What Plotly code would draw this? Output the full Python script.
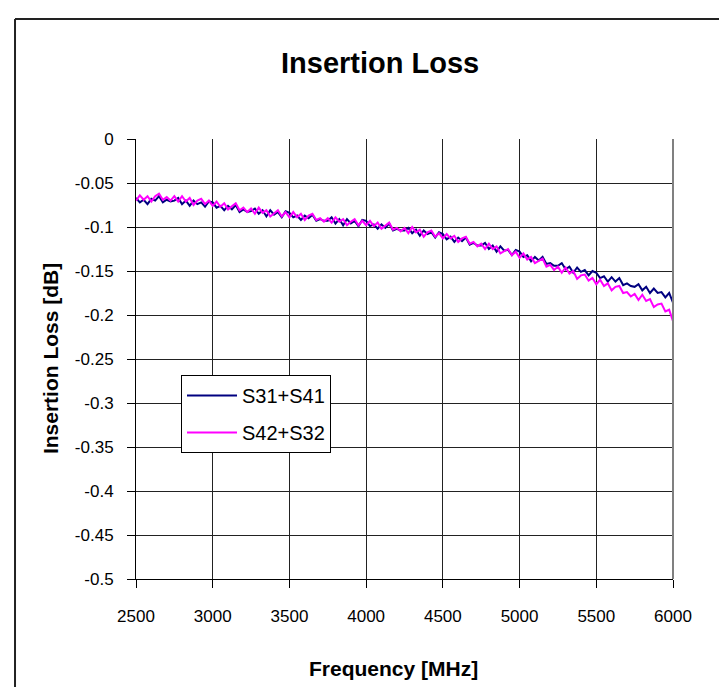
import plotly.graph_objects as go

freq_mhz = list(range(2500, 6001, 25))

s31_s41 = [
    -0.067, -0.072, -0.069, -0.074, -0.068, -0.070, -0.065, -0.072, -0.069, -0.071,
    -0.070, -0.067, -0.074, -0.070, -0.076, -0.070, -0.074, -0.072, -0.077, -0.071,
    -0.072, -0.078, -0.076, -0.081, -0.076, -0.080, -0.075, -0.083, -0.080, -0.083,
    -0.082, -0.079, -0.085, -0.081, -0.088, -0.081, -0.086, -0.083, -0.089, -0.082,
    -0.084, -0.089, -0.087, -0.092, -0.087, -0.090, -0.086, -0.093, -0.091, -0.093,
    -0.093, -0.089, -0.096, -0.091, -0.098, -0.091, -0.096, -0.093, -0.099, -0.092,
    -0.093, -0.099, -0.097, -0.102, -0.097, -0.101, -0.096, -0.104, -0.102, -0.104,
    -0.104, -0.101, -0.107, -0.103, -0.110, -0.104, -0.108, -0.106, -0.112, -0.106,
    -0.108, -0.114, -0.111, -0.117, -0.112, -0.116, -0.112, -0.120, -0.118, -0.121,
    -0.121, -0.118, -0.125, -0.121, -0.128, -0.122, -0.127, -0.126, -0.132, -0.126,
    -0.128, -0.134, -0.132, -0.139, -0.134, -0.138, -0.134, -0.142, -0.141, -0.144,
    -0.144, -0.141, -0.148, -0.145, -0.152, -0.146, -0.151, -0.149, -0.155, -0.150,
    -0.152, -0.158, -0.156, -0.162, -0.157, -0.162, -0.158, -0.166, -0.164, -0.167,
    -0.168, -0.165, -0.172, -0.168, -0.175, -0.170, -0.175, -0.174, -0.180, -0.175,
    -0.186,
]

s42_s32 = [
    -0.070, -0.064, -0.069, -0.065, -0.071, -0.065, -0.062, -0.069, -0.066, -0.070,
    -0.065, -0.071, -0.065, -0.071, -0.067, -0.075, -0.070, -0.068, -0.074, -0.070,
    -0.076, -0.071, -0.077, -0.073, -0.080, -0.076, -0.073, -0.081, -0.078, -0.083,
    -0.079, -0.085, -0.078, -0.084, -0.081, -0.088, -0.084, -0.081, -0.088, -0.083,
    -0.089, -0.083, -0.089, -0.085, -0.092, -0.087, -0.085, -0.092, -0.090, -0.094,
    -0.090, -0.095, -0.089, -0.094, -0.091, -0.098, -0.094, -0.091, -0.098, -0.093,
    -0.098, -0.093, -0.099, -0.095, -0.102, -0.098, -0.095, -0.103, -0.101, -0.105,
    -0.101, -0.107, -0.100, -0.106, -0.103, -0.111, -0.106, -0.104, -0.111, -0.107,
    -0.113, -0.108, -0.113, -0.110, -0.117, -0.113, -0.111, -0.119, -0.117, -0.122,
    -0.119, -0.125, -0.119, -0.125, -0.122, -0.130, -0.127, -0.125, -0.132, -0.128,
    -0.135, -0.130, -0.137, -0.134, -0.141, -0.138, -0.136, -0.145, -0.143, -0.149,
    -0.145, -0.152, -0.146, -0.153, -0.150, -0.159, -0.155, -0.154, -0.161, -0.158,
    -0.165, -0.160, -0.167, -0.164, -0.172, -0.168, -0.167, -0.175, -0.174, -0.179,
    -0.176, -0.183, -0.177, -0.184, -0.182, -0.191, -0.188, -0.187, -0.196, -0.194,
    -0.207,
]

x_tick_vals = [2500, 3000, 3500, 4000, 4500, 5000, 5500, 6000]
x_tick_text = ["2500", "3000", "3500", "4000", "4500", "5000", "5500", "6000"]
y_tick_vals = [0, -0.05, -0.1, -0.15, -0.2, -0.25, -0.3, -0.35, -0.4, -0.45, -0.5]
y_tick_text = ["0", "-0.05", "-0.1", "-0.15", "-0.2", "-0.25", "-0.3", "-0.35", "-0.4", "-0.45", "-0.5"]

FONT = "Liberation Sans, Arial, sans-serif"

fig = go.Figure()
fig.add_trace(go.Scatter(x=freq_mhz, y=s31_s41, mode="lines", name="S31+S41",
                         legendgroup="a",
                         line=dict(color="#000080", width=2)))
fig.add_trace(go.Scatter(x=freq_mhz, y=s42_s32, mode="lines", name="S42+S32",
                         legendgroup="b",
                         line=dict(color="#FF00FF", width=2)))

fig.update_layout(
    width=727, height=687, autosize=False,
    margin=dict(l=128, r=62, t=131, b=116),
    paper_bgcolor="white", plot_bgcolor="white",
    font=dict(family=FONT, color="black", size=17),
    showlegend=True,
    legend=dict(x=0.0838, y=0.4636, xanchor="left", yanchor="top",
                bgcolor="white", bordercolor="black", borderwidth=1,
                itemwidth=50, traceorder="grouped", tracegroupgap=8,
                font=dict(size=20, family=FONT)),
)
fig.update_xaxes(range=[2500, 6000], tickvals=x_tick_vals, ticktext=x_tick_text,
                 showgrid=True, gridcolor="#222222", gridwidth=1,
                 showline=True, linecolor="black", linewidth=1,
                 ticks="outside", ticklen=8, tickcolor="black",
                 ticklabelstandoff=14, zeroline=False,
                 tickfont=dict(size=17))
fig.update_yaxes(range=[-0.5, 0], tickvals=y_tick_vals, ticktext=y_tick_text,
                 showgrid=True, gridcolor="#222222", gridwidth=1,
                 showline=True, linecolor="black", linewidth=1,
                 ticks="outside", ticklen=8, tickcolor="black",
                 ticklabelstandoff=10, zeroline=False,
                 tickfont=dict(size=17))

# right plot border (gray)
fig.add_shape(type="line", xref="paper", yref="paper", x0=1, x1=1, y0=0, y1=1,
              line=dict(color="#808080", width=2))
# outer chart frame (left and top edges visible)
fig.add_shape(type="line", xref="paper", yref="paper", x0=-0.2253, x1=-0.2253, y0=1.2727, y1=-0.30,
              line=dict(color="#222222", width=2))
fig.add_shape(type="line", xref="paper", yref="paper", x0=-0.2253, x1=1.15, y0=1.2727, y1=1.2727,
              line=dict(color="#222222", width=2))

fig.add_annotation(text="<b>Insertion Loss</b>", xref="paper", yref="paper",
                   x=0.4544, y=1.1727, xanchor="center", yanchor="middle",
                   showarrow=False, font=dict(size=29, family=FONT))
fig.add_annotation(text="<b>Frequency [MHz]</b>", xref="paper", yref="paper",
                   x=0.4786, y=-0.2023, xanchor="center", yanchor="middle",
                   showarrow=False, font=dict(size=21, family=FONT))
fig.add_annotation(text="<b>Insertion Loss [dB]</b>", xref="paper", yref="paper",
                   x=-0.160, y=0.5, xanchor="center", yanchor="middle", textangle=-90,
                   showarrow=False, font=dict(size=21, family=FONT))

fig.write_html("out.html")
